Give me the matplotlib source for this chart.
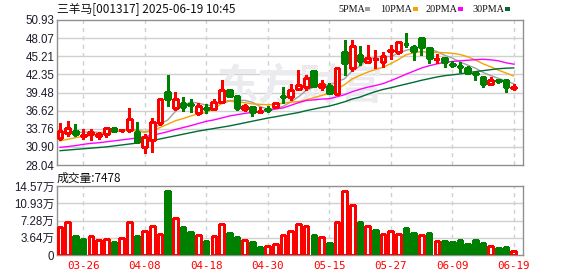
import matplotlib
matplotlib.use('Agg')
import matplotlib.pyplot as plt
import numpy as np

# ---------------- data ----------------
dates = ['03-21', '03-24', '03-25', '03-26', '03-27', '03-28', '03-31', '04-01', '04-02', '04-03',
         '04-07', '04-08', '04-09', '04-10', '04-11', '04-14', '04-15', '04-16', '04-17', '04-18',
         '04-21', '04-22', '04-23', '04-24', '04-25', '04-28', '04-29', '04-30', '05-06', '05-07',
         '05-08', '05-09', '05-12', '05-13', '05-14', '05-15', '05-16', '05-19', '05-20', '05-21',
         '05-22', '05-23', '05-26', '05-27', '05-28', '05-29', '05-30', '06-03', '06-04', '06-05',
         '06-06', '06-09', '06-10', '06-11', '06-12', '06-13', '06-16', '06-17', '06-18', '06-19']

opens = [32.25, 33.04, 33.41, 32.55, 32.90, 32.65, 32.95, 33.95, 33.50, 33.60,
         33.30, 30.93, 32.00, 34.70, 39.60, 37.00, 37.90, 37.65, 36.20, 37.05,
         36.85, 38.05, 39.90, 38.95, 36.85, 37.25, 36.35, 36.90, 37.15, 38.95,
         38.80, 40.05, 40.40, 42.90, 40.35, 40.50, 39.20, 45.90, 43.40, 45.40,
         44.25, 44.70, 44.25, 46.00, 45.90, 47.20, 46.70, 48.05, 46.45, 44.70,
         45.00, 44.00, 43.60, 43.30, 42.55, 41.90, 40.85, 41.40, 41.45, 40.25]
highs = [34.70, 35.00, 34.46, 33.80, 33.70, 33.30, 33.90, 34.10, 33.70, 37.00,
         34.90, 33.00, 35.40, 38.50, 42.30, 39.60, 38.70, 38.40, 37.90, 37.60,
         38.45, 41.45, 40.00, 39.10, 37.65, 37.30, 37.20, 37.40, 38.00, 40.30,
         40.90, 43.00, 42.25, 42.95, 41.40, 40.95, 43.45, 47.80, 47.80, 46.80,
         47.00, 46.20, 45.80, 47.00, 47.50, 48.80, 47.00, 48.10, 46.50, 45.55,
         45.10, 44.50, 44.25, 43.70, 42.80, 41.95, 41.95, 41.60, 41.50, 40.80]
lows = [32.00, 32.60, 32.62, 32.20, 32.00, 32.20, 32.40, 33.30, 33.30, 33.30,
        31.60, 29.90, 30.10, 34.30, 37.40, 36.80, 36.60, 36.45, 36.00, 36.30,
        36.70, 37.90, 38.80, 36.75, 36.50, 35.70, 36.30, 36.40, 37.00, 37.90,
        38.30, 39.90, 39.90, 40.45, 39.90, 39.30, 39.10, 42.25, 42.95, 43.80,
        44.10, 43.30, 43.50, 44.70, 45.60, 46.70, 44.60, 45.40, 44.10, 44.10,
        43.55, 43.45, 42.70, 42.45, 41.45, 40.40, 40.80, 41.05, 39.60, 39.90]
closes = [33.41, 33.93, 32.93, 32.80, 33.30, 32.95, 33.85, 33.45, 33.60, 35.25,
          31.60, 32.50, 34.80, 38.40, 38.40, 38.40, 37.25, 37.55, 37.35, 36.95,
          38.00, 39.90, 39.00, 37.00, 37.35, 36.45, 36.60, 36.80, 37.80, 38.85,
          39.85, 40.70, 41.80, 40.50, 40.80, 39.45, 43.35, 44.20, 46.80, 44.50,
          44.90, 44.80, 45.30, 46.15, 47.40, 47.10, 46.10, 46.60, 45.00, 44.80,
          44.35, 43.90, 43.50, 42.50, 42.45, 40.90, 41.45, 41.30, 40.40, 40.30]

volumes = [58500, 69000, 40100, 33800, 39400, 31000, 33100, 27500, 35200, 69000,
           40100, 50000, 60500, 44300, 135200, 77400, 59100, 48600, 41200, 29600,
           39400, 64800, 46500, 38000, 31000, 27500, 16900, 18300, 22500, 41500,
           50000, 64800, 60500, 42200, 37300, 25300, 69000, 134500, 105600, 69700,
           60500, 52800, 43600, 50700, 43600, 57000, 47200, 42200, 47200, 30300,
           30300, 28200, 32400, 23900, 31700, 26000, 19000, 15500, 17600, 7478]
vol_up = [1, 1, 0, 0, 1, 1, 1, 0, 1, 1,
          0, 1, 1, 1, 0, 1, 0, 0, 1, 0,
          1, 1, 0, 0, 1, 0, 0, 1, 1, 1,
          1, 1, 1, 0, 1, 0, 1, 1, 1, 0,
          1, 0, 1, 1, 1, 0, 0, 1, 0, 1,
          0, 0, 0, 0, 0, 0, 1, 0, 0, 1]

ma5 = [33.10, 33.20, 33.20, 33.20, 33.27, 33.18, 33.17, 33.27, 33.43, 33.82,
       33.55, 33.28, 33.55, 34.51, 35.14, 36.50, 37.45, 38.00, 37.79, 37.50,
       37.42, 37.95, 38.24, 38.17, 38.25, 37.94, 37.28, 36.84, 37.00, 37.30,
       37.98, 38.80, 39.80, 40.34, 40.73, 40.65, 41.18, 41.66, 42.92, 43.66,
       44.75, 45.04, 45.26, 45.13, 45.71, 46.15, 46.41, 46.67, 46.44, 45.92,
       45.37, 44.93, 44.31, 43.81, 43.34, 42.65, 42.16, 41.72, 41.30, 40.87]
ma10 = [31.85, 32.10, 32.35, 32.55, 32.70, 32.90, 33.10, 33.30, 33.45, 33.55,
        33.37, 33.22, 33.41, 33.97, 34.48, 35.03, 35.37, 35.78, 36.15, 36.32,
        36.96, 37.70, 38.12, 37.98, 37.88, 37.68, 37.62, 37.54, 37.59, 37.78,
        37.96, 38.04, 38.32, 38.67, 39.02, 39.32, 39.99, 40.73, 41.63, 42.20,
        42.70, 43.11, 43.46, 44.03, 44.69, 45.45, 45.73, 45.97, 45.79, 45.82,
        45.76, 45.67, 45.49, 45.13, 44.63, 44.01, 43.55, 43.02, 42.56, 42.10]
ma20 = [30.83, 30.95, 31.10, 31.30, 31.45, 31.55, 31.70, 31.85, 32.00, 32.15,
        32.30, 32.50, 32.75, 33.00, 33.30, 33.65, 33.95, 34.25, 34.60, 34.93,
        35.16, 35.46, 35.77, 35.98, 36.18, 36.35, 36.49, 36.66, 36.87, 37.05,
        37.46, 37.87, 38.22, 38.33, 38.45, 38.50, 38.80, 39.14, 39.61, 39.99,
        40.33, 40.58, 40.89, 41.35, 41.85, 42.38, 42.86, 43.35, 43.71, 44.00,
        44.23, 44.39, 44.48, 44.58, 44.66, 44.73, 44.64, 44.49, 44.17, 43.96]
ma30 = [30.30, 30.40, 30.50, 30.60, 30.70, 30.80, 30.90, 31.05, 31.20, 31.35,
        31.50, 31.70, 31.90, 32.15, 32.40, 32.65, 32.90, 33.15, 33.40, 33.60,
        33.80, 34.00, 34.20, 34.45, 34.70, 34.95, 35.20, 35.45, 35.65, 35.88,
        36.10, 36.32, 36.62, 36.87, 37.12, 37.34, 37.66, 38.02, 38.46, 38.76,
        39.21, 39.62, 39.97, 40.23, 40.53, 40.82, 41.11, 41.41, 41.67, 41.93,
        42.14, 42.27, 42.42, 42.61, 42.78, 42.93, 43.09, 43.24, 43.32, 43.37]

price_ticks = [28.04, 30.90, 33.76, 36.62, 39.48, 42.35, 45.21, 48.07, 50.93]
vol_ticks = [0, 36425, 72850, 109275, 145700]
vol_tick_labels = ['0', '3.64万', '7.28万', '10.93万', '14.57万']
xtick_dates = ['03-26', '04-08', '04-18', '04-30', '05-15', '05-27', '06-09', '06-19']

title_text = '三羊马[001317] 2025-06-19 10:45'
vol_title = '成交量:7478'

# ---------------- style ----------------
RED = '#ff0000'
GREEN = '#008000'
MA_COLORS = ['#a0a0a0', '#f5a300', '#ff00ff', '#006b35']
GRID = '#d0d0d0'
FRAME = '#909090'
CJK = ['Noto Sans CJK SC', 'DejaVu Sans']
NUM = ['Liberation Sans', 'Noto Sans CJK SC']

W, H = 578, 276
fig = plt.figure(figsize=(W / 100, H / 100), dpi=100)

def frac(l, t, r, b):
    return [l / W, 1 - b / H, (r - l) / W, (b - t) / H]

axp = fig.add_axes(frac(57, 20, 523, 165))
axv = fig.add_axes(frac(57, 186, 523, 255))

x = np.arange(len(dates))
xt = [dates.index(d) for d in xtick_dates]
xlim = (-0.4, 60.2)

for ax in (axp, axv):
    ax.set_xlim(*xlim)
    for s in ax.spines.values():
        s.set_color(FRAME)
        s.set_linewidth(1.0)
    ax.tick_params(length=0, pad=2)
    ax.set_xticks(xt)
    for xv in xt:
        ax.axvline(xv, color=GRID, lw=1, ls=(0, (3, 3)), zorder=0)

# price panel
axp.set_ylim(price_ticks[0], price_ticks[-1])
axp.set_yticks(price_ticks)
axp.set_yticklabels(['%.2f' % v for v in price_ticks], fontsize=8.3, color='#1c1c2c', family=NUM)
axp.set_xticklabels([])
for v in price_ticks[1:-1]:
    axp.axhline(v, color=GRID, lw=1, zorder=0)

# watermark
axp.text(0.52, 0.54, '东方财富', transform=axp.transAxes, ha='center', va='center',
         fontsize=30, fontweight='bold', color='#ebebef', family=CJK, zorder=0.5)

for ma, col in zip([ma5, ma10, ma20, ma30], MA_COLORS):
    axp.plot(x, ma, color=col, lw=1.0, zorder=2)

o = np.array(opens); c = np.array(closes); hi = np.array(highs); lo = np.array(lows)
up = c >= o
cw = 0.62
cols = np.where(up, RED, GREEN)
axp.vlines(x, lo, hi, colors=cols, lw=1.0, zorder=3, antialiased=False)
bottoms = np.minimum(o, c)
heights = np.abs(c - o)
axp.bar(x, heights, cw, bottom=bottoms, color=np.where(up, 'white', GREEN),
        edgecolor=cols, linewidth=1.0, zorder=4, antialiased=False)

# volume panel
axv.set_ylim(vol_ticks[0], vol_ticks[-1])
axv.set_yticks(vol_ticks)
axv.set_yticklabels(vol_tick_labels, fontsize=8.3, color='#1c1c2c', family=NUM)
for v in vol_ticks[1:-1]:
    axv.axhline(v, color=GRID, lw=1, zorder=0)
vu = np.array(vol_up).astype(bool)
vcols = np.where(vu, RED, GREEN)
axv.bar(x, volumes, 0.6, color=np.where(vu, 'white', GREEN), edgecolor=vcols,
        linewidth=1.0, zorder=3, antialiased=False)
axv.set_xticklabels(xtick_dates, fontsize=7.8, color=RED, family=['DejaVu Sans Mono'])
axv.tick_params(axis='x', pad=4)

# titles
fig.text(57 / W, 1 - 9 / H, title_text, fontsize=8.5, family=CJK, ha='left', va='center', color='#111111')
fig.text(57 / W, 1 - 178 / H, vol_title, fontsize=8.5, family=CJK, ha='left', va='center', color='#111111')

# legend
leg = [('5PMA', 338, 365), ('10PMA', 380, 413), ('20PMA', 425, 458), ('30PMA', 472, 505)]
for (lab, tx, sx), col in zip(leg, MA_COLORS):
    fig.text(tx / W, 1 - 9 / H, lab, fontsize=7.3, family=['Liberation Serif'], ha='left', va='center', color='#111111')
    fig.patches.append(plt.Rectangle((sx / W, 1 - 11 / H), 5 / W, 4 / H, transform=fig.transFigure,
                                     facecolor=col, edgecolor='none'))

fig.savefig('out.png', dpi=100)
